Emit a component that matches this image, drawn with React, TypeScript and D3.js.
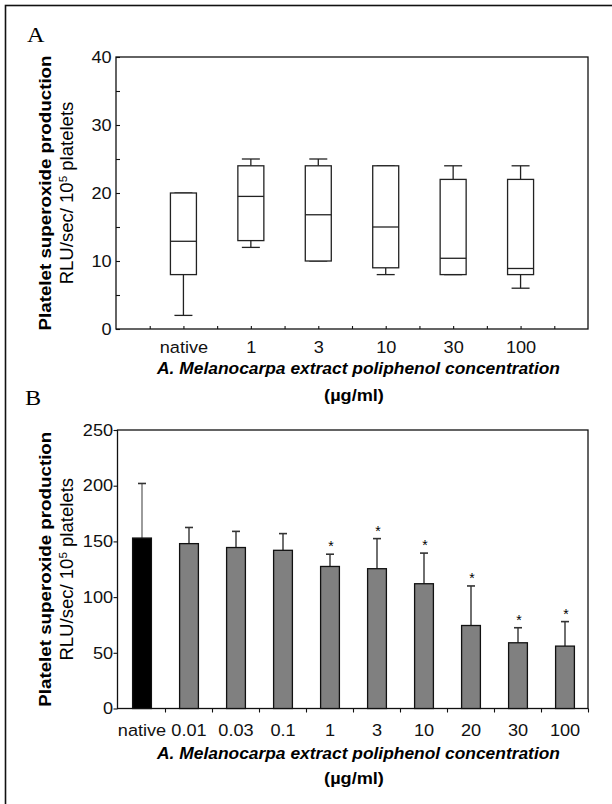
import React, { useEffect, useRef } from 'react';
import * as d3 from 'd3';

// Panel A: box plots (RLU/sec/10^5 platelets)
const doseA = ['native', '1', '3', '10', '30', '100'];
const minA = [2, 12, 10, 8, 8, 6];
const q1A = [8, 13, 10, 9, 8, 8];
const medA = [12.9, 19.5, 16.8, 15, 10.4, 8.9];
const q3A = [20, 24, 24, 24, 22, 22];
const maxA = [20, 25, 25, 24, 24, 24];

// Panel B: mean + SD bars
const doseB = ['native', '0.01', '0.03', '0.1', '1', '3', '10', '20', '30', '100'];
const meanB = [153, 148, 144.5, 142, 127.5, 125.5, 112, 74.5, 59, 56];
const sdB = [49, 14.5, 14.5, 15, 11, 27, 27.5, 35.5, 13.5, 22];
const sigB = [false, false, false, false, true, true, true, true, true, true];

const W = 612, H = 804;
const SANS = '"Liberation Sans", Arial, Helvetica, sans-serif';
const SERIF = '"Liberation Serif", "Times New Roman", serif';
const SX = 1.1; // the source figure is slightly stretched sideways

const App = () => {
  const ref = useRef<SVGSVGElement>(null);

  useEffect(() => {
    const svg = d3.select(ref.current);
    svg.selectAll('*').remove();

    // outer frame (right and bottom edges fall outside the picture)
    svg.append('rect')
      .attr('x', 5.5).attr('y', 5.5)
      .attr('width', W + 20).attr('height', H + 20)
      .attr('fill', 'none').attr('stroke', '#111').attr('stroke-width', 1.6);

    const styleTicks = (g: any, size: number) => {
      g.select('.domain').remove();
      g.selectAll('line').attr('stroke', '#111').attr('stroke-width', 1.1);
      g.selectAll('text')
        .attr('font-family', SANS)
        .attr('font-size', size)
        .attr('fill', '#111')
        .attr('transform', `scale(${SX},1)`);
    };

    const yTitle = (cy: number) => {
      svg.append('text')
        .attr('transform', `translate(51,${cy}) rotate(-90)`)
        .attr('text-anchor', 'middle')
        .attr('font-family', SANS).attr('font-weight', 'bold').attr('font-size', 17)
        .attr('textLength', 275).attr('lengthAdjust', 'spacingAndGlyphs')
        .text('Platelet superoxide production');
      const t = svg.append('text')
        .attr('transform', `translate(73,${cy}) rotate(-90) scale(1.06,1)`)
        .attr('text-anchor', 'middle')
        .attr('font-family', SANS).attr('font-size', 17.5);
      t.append('tspan').text('RLU/sec/ 10');
      t.append('tspan').attr('dy', -6).attr('font-size', 11).text('5');
      t.append('tspan').attr('dy', 6).text(' platelets');
    };

    const xTitle = (base: number, gap: number) => {
      svg.append('text')
        .attr('x', 157).attr('y', base)
        .attr('font-family', SANS).attr('font-weight', 'bold').attr('font-style', 'italic')
        .attr('font-size', 16.5)
        .attr('textLength', 403).attr('lengthAdjust', 'spacingAndGlyphs')
        .text('A. Melanocarpa extract poliphenol concentration');
      svg.append('text')
        .attr('transform', `translate(354,${base + gap}) scale(${SX},1)`)
        .attr('text-anchor', 'middle')
        .attr('font-family', SANS).attr('font-weight', 'bold').attr('font-size', 16.5)
        .text('(µg/ml)');
    };

    const panelLetter = (txt: string, x: number, y: number) => {
      svg.append('text')
        .attr('transform', `translate(${x},${y}) scale(${SX},1)`)
        .attr('font-family', SERIF).attr('font-size', 22)
        .text(txt);
    };

    // ---------- Panel A ----------
    const xA = d3.scaleLinear().domain([0, doseA.length + 1]).range([116, 588]);
    const yA = d3.scaleLinear().domain([0, 40]).range([329, 57]);

    panelLetter('A', 27, 42);

    svg.append('rect')
      .attr('x', xA.range()[0]).attr('y', yA.range()[1])
      .attr('width', xA.range()[1] - xA.range()[0])
      .attr('height', yA.range()[0] - yA.range()[1])
      .attr('fill', 'none').attr('stroke', '#111').attr('stroke-width', 1.3);

    svg.append('g')
      .attr('transform', `translate(${xA.range()[0]},0)`)
      .call(d3.axisLeft(yA).tickValues(d3.range(0, 41, 5))
        .tickSizeInner(-4).tickSizeOuter(0).tickPadding(4)
        .tickFormat((d: any) => (d % 10 === 0 ? String(d) : '')))
      .call((g: any) => styleTicks(g, 16.5));

    svg.append('g')
      .attr('transform', `translate(0,${yA.range()[0]})`)
      .call(d3.axisBottom(xA).tickValues(d3.range(0.5, doseA.length + 1, 0.5))
        .tickSizeInner(-3).tickSizeOuter(0).tickPadding(12.5)
        .tickFormat((d: any) => (Number.isInteger(d) && d >= 1 && d <= doseA.length ? doseA[d - 1] : '')))
      .call((g: any) => styleTicks(g, 16.5));

    const boxW = 26, capW = 18;
    const boxes = svg.append('g').attr('stroke', '#222').attr('stroke-width', 1.3).attr('fill', 'none');
    doseA.forEach((_, i) => {
      const cx = xA(i + 1);
      const g = boxes.append('g');
      g.append('line').attr('x1', cx).attr('x2', cx).attr('y1', yA(q3A[i])).attr('y2', yA(maxA[i]));
      g.append('line').attr('x1', cx).attr('x2', cx).attr('y1', yA(q1A[i])).attr('y2', yA(minA[i]));
      g.append('line').attr('x1', cx - capW / 2).attr('x2', cx + capW / 2).attr('y1', yA(maxA[i])).attr('y2', yA(maxA[i]));
      g.append('line').attr('x1', cx - capW / 2).attr('x2', cx + capW / 2).attr('y1', yA(minA[i])).attr('y2', yA(minA[i]));
      g.append('rect')
        .attr('x', cx - boxW / 2).attr('y', yA(q3A[i]))
        .attr('width', boxW).attr('height', yA(q1A[i]) - yA(q3A[i]))
        .attr('fill', '#fff');
      g.append('line').attr('x1', cx - boxW / 2).attr('x2', cx + boxW / 2).attr('y1', yA(medA[i])).attr('y2', yA(medA[i]));
    });

    yTitle((yA.range()[0] + yA.range()[1]) / 2);
    xTitle(374, 27);

    // ---------- Panel B ----------
    const xB = d3.scaleBand().domain(doseB).range([118.5, 588.5]).paddingInner(0.6).paddingOuter(0.3);
    const yB = d3.scaleLinear().domain([0, 250]).range([708.5, 430]);

    panelLetter('B', 25, 405);

    svg.append('rect')
      .attr('x', 117.5).attr('y', yB.range()[1])
      .attr('width', 588 - 117.5)
      .attr('height', yB.range()[0] - yB.range()[1])
      .attr('fill', 'none').attr('stroke', '#111').attr('stroke-width', 1.3);

    svg.append('g')
      .attr('transform', 'translate(117.5,0)')
      .call(d3.axisLeft(yB).tickValues(d3.range(0, 251, 50))
        .tickSizeInner(4).tickSizeOuter(0).tickPadding(0))
      .call((g: any) => styleTicks(g, 16.5));

    svg.append('g')
      .attr('transform', `translate(0,${yB.range()[0]})`)
      .call(d3.axisBottom(xB).tickSize(0).tickPadding(15.5))
      .call((g: any) => styleTicks(g, 16.5));

    // ticks sit on the category boundaries
    svg.append('g').selectAll('line')
      .data(d3.range(1, doseB.length + 1))
      .join('line')
      .attr('x1', (i: number) => xB.range()[0] + i * xB.step())
      .attr('x2', (i: number) => xB.range()[0] + i * xB.step())
      .attr('y1', yB.range()[0]).attr('y2', yB.range()[0] + 4)
      .attr('stroke', '#111').attr('stroke-width', 1.1);

    const bars = svg.append('g');
    bars.selectAll('line.err')
      .data(doseB)
      .join('line')
      .attr('class', 'err')
      .attr('x1', (d: string) => xB(d)! + xB.bandwidth() / 2)
      .attr('x2', (d: string) => xB(d)! + xB.bandwidth() / 2)
      .attr('y1', (_: string, i: number) => yB(meanB[i]))
      .attr('y2', (_: string, i: number) => yB(meanB[i] + sdB[i]))
      .attr('stroke', (_: string, i: number) => (i === 0 ? '#666' : '#222'))
      .attr('stroke-width', 1.3);
    bars.selectAll('line.cap')
      .data(doseB)
      .join('line')
      .attr('class', 'cap')
      .attr('x1', (d: string) => xB(d)! + xB.bandwidth() / 2 - 4)
      .attr('x2', (d: string) => xB(d)! + xB.bandwidth() / 2 + 4)
      .attr('y1', (_: string, i: number) => yB(meanB[i] + sdB[i]))
      .attr('y2', (_: string, i: number) => yB(meanB[i] + sdB[i]))
      .attr('stroke', '#333').attr('stroke-width', 1.6);
    bars.selectAll('rect')
      .data(doseB)
      .join('rect')
      .attr('x', (d: string) => xB(d)!)
      .attr('y', (_: string, i: number) => yB(meanB[i]))
      .attr('width', xB.bandwidth())
      .attr('height', (_: string, i: number) => yB(0) - yB(meanB[i]))
      .attr('fill', (_: string, i: number) => (i === 0 ? '#000' : '#808080'))
      .attr('stroke', '#111').attr('stroke-width', 1.3);

    bars.selectAll('text')
      .data(doseB.filter((_, i) => sigB[i]))
      .join('text')
      .attr('x', (d: string) => xB(d)! + xB.bandwidth() / 2 + 1)
      .attr('y', (d: string) => {
        const i = doseB.indexOf(d);
        return yB(meanB[i] + sdB[i]) - 3;
      })
      .attr('text-anchor', 'middle')
      .attr('font-family', SANS).attr('font-size', 14)
      .text('*');

    yTitle((yB.range()[0] + yB.range()[1]) / 2);
    xTitle(759, 25);
  }, []);

  return (
    <svg
      ref={ref}
      width={W}
      height={H}
      style={{ position: 'absolute', left: 0, top: 0, background: '#fff' }}
    />
  );
};

export default App;
